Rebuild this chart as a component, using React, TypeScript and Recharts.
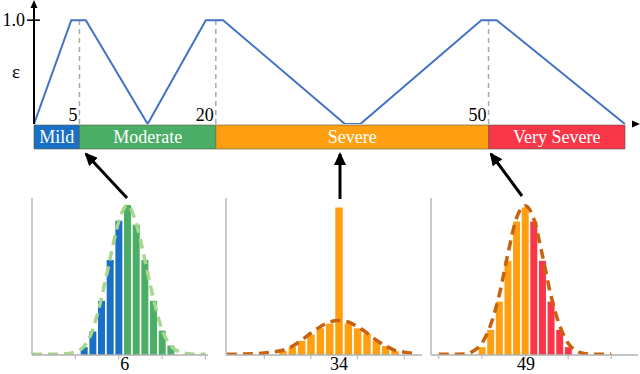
import React from 'react';
import {
  LineChart, Line, XAxis, YAxis, ReferenceLine, Label,
  BarChart, Bar, LabelList, ComposedChart, Cell,
} from 'recharts';

// top curve: epsilon vs severity score
const epsX = [0, 4.1, 5.7, 12.5, 18.9, 20.8, 34.2, 35.9, 49.2, 50.9, 65];
const epsY = [0.6, 1.0, 1.0, 0.6, 1.0, 1.0, 0.6, 0.6, 1.0, 1.0, 0.6];
const cutPoints = [5, 20, 50];

const severityNames = ['Mild', 'Moderate', 'Severe', 'Very Severe'];
const severityEdges = [0, 5, 20, 50, 65];
const severityColors = ['#1a70c6', '#4aae66', '#ffa012', '#f93647'];

// histogram 1 (score 6)
const h1Bins = [6, 7, 8, 9, 10, 11, 12, 13, 14, 15, 16];
const h1Freq = [0.05, 0.15, 0.345, 0.605, 0.855, 0.955, 0.83, 0.605, 0.345, 0.155, 0.06];
const h1FitX = [0, 1, 2, 3, 4, 5, 6, 7, 8, 9, 10, 11, 12, 13, 14, 15, 16, 17, 18, 19, 20];
const h1Fit = [0.004, 0.004, 0.004, 0.005, 0.008, 0.02, 0.055, 0.16, 0.36, 0.61, 0.85, 0.955, 0.84, 0.61, 0.36, 0.16, 0.06, 0.02, 0.008, 0.005, 0.004];

// histogram 2 (score 34)
const h2Bins = [7, 8, 9, 10, 11, 12, 13, 14, 15, 16, 17, 18, 19];
const h2Freq = [0.025, 0.05, 0.09, 0.13, 0.17, 0.2, 0.94, 0.2, 0.17, 0.135, 0.09, 0.057, 0.025];
const h2FitX = [1, 2, 3, 4, 5, 6, 7, 8, 9, 10, 11, 12, 13, 14, 15, 16, 17, 18, 19, 20, 21];
const h2Fit = [0.005, 0.005, 0.006, 0.008, 0.012, 0.02, 0.03, 0.055, 0.095, 0.14, 0.18, 0.21, 0.22, 0.21, 0.18, 0.14, 0.095, 0.058, 0.03, 0.018, 0.01];

// histogram 3 (score 49)
const h3Bins = [5, 6, 7, 8, 9, 10, 11, 12, 13, 14, 15];
const h3Freq = [0.05, 0.16, 0.34, 0.6, 0.85, 0.94, 0.85, 0.6, 0.34, 0.16, 0.05];
const h3FitX = [0, 1, 2, 3, 4, 5, 6, 7, 8, 9, 10, 11, 12, 13, 14, 15, 16, 17, 18, 19, 20];
const h3Fit = [0.005, 0.005, 0.005, 0.006, 0.025, 0.075, 0.19, 0.38, 0.64, 0.87, 0.95, 0.87, 0.64, 0.38, 0.19, 0.075, 0.025, 0.008, 0.005, 0.005, 0.005];

const FONT = "'Liberation Serif', 'DejaVu Serif', 'Times New Roman', serif";

const epsData = epsX.map((x, i) => ({ x, eps: epsY[i] }));
const bandRow: Record<string, any> = { name: 'band' };
severityNames.forEach((_, i) => { bandRow['b' + i] = severityEdges[i + 1] - severityEdges[i]; });

const txt = { fontFamily: FONT };

const EpsTick = ({ x, y, payload }: any) => (
  <g>
    {payload.value === 1 && <line x1={x + 1} x2={x + 14} y1={y} y2={y} stroke="#000" strokeWidth={1.5} />}
    <text x={x - 1} y={y} dy={6} textAnchor="end" fontSize={18} style={txt} fill="#000">{payload.value.toFixed(1)}</text>
  </g>
);

const CutLabel = ({ viewBox, text }: any) => (
  <text x={viewBox.x - 2} y={121} textAnchor="end" fontSize={18} style={txt} fill="#000">{text}</text>
);

function TopChart() {
  return (
    <LineChart width={640} height={126} data={epsData} margin={{ top: 2, right: 6, left: 0, bottom: 2 }}>
      <XAxis type="number" dataKey="x" domain={[0, 66]} allowDataOverflow height={0} tick={false} tickLine={false}
        axisLine={{ stroke: '#000', strokeWidth: 2 }} />
      <YAxis type="number" domain={[0.6, 1.07]} allowDataOverflow ticks={[0.6, 1.0]} width={34}
        tick={<EpsTick />} tickLine={false} axisLine={{ stroke: '#000', strokeWidth: 2 }}>
        <Label value="ε" position="insideLeft" offset={12} dy={8} fontSize={19} style={txt} fill="#000" />
      </YAxis>
      {cutPoints.map((c) => (
        <ReferenceLine key={c} segment={[{ x: c, y: 0.6 }, { x: c, y: 1.0 }]} stroke="#a8a8a8"
          strokeWidth={1.5} strokeDasharray="5 4" label={<CutLabel text={String(c)} />} />
      ))}
      <Line type="linear" dataKey="eps" stroke="#4472c4" strokeWidth={2} dot={false} isAnimationActive={false} />
    </LineChart>
  );
}

function BandChart() {
  return (
    <BarChart layout="vertical" width={640} height={26} data={[bandRow]} barCategoryGap={0}
      margin={{ top: 1, right: 15, left: 34, bottom: 1 }}>
      <XAxis type="number" domain={[0, 65]} hide />
      <YAxis type="category" dataKey="name" hide />
      {severityNames.map((n, i) => (
        <Bar key={n} dataKey={'b' + i} stackId="s" fill={severityColors[i]} stroke="#5c5c4c" strokeWidth={0.6}
          isAnimationActive={false}>
          <LabelList position="center" fill="#fff" fontSize={18} style={txt} formatter={() => n} />
        </Bar>
      ))}
    </BarChart>
  );
}

interface HistProps {
  left: number; width: number; domain: [number, number]; labelX: number; labelText: string;
  bins: number[]; freq: number[]; fitX: number[]; fit: number[];
  split: number; lowColor: string; highColor: string; curveColor: string; barSize: number;
}

function Hist(p: HistProps) {
  const data = p.fitX.map((x, i) => {
    const b = p.bins.indexOf(x);
    return { x, freq: b >= 0 ? p.freq[b] : null, fit: p.fit[i] };
  });
  const tickVals = [0, 5, 10, 15, 20].filter((t) => t > p.domain[0] + 0.5 && t <= p.domain[1]);
  const HistTick = ({ x, y, payload }: any) =>
    payload.value === p.labelX ? (
      <text x={x} y={y + 7} textAnchor="middle" fontSize={18} style={txt} fill="#000">{p.labelText}</text>
    ) : (
      <line x1={x} x2={x} y1={y - 8} y2={y - 4} stroke="#b0b0b0" strokeWidth={1} />
    );
  return (
    <div style={{ position: 'absolute', left: p.left, top: 198 }}>
      <ComposedChart width={p.width} height={176} data={data} margin={{ top: 0, right: 0, left: 0, bottom: 0 }}>
        <XAxis type="number" dataKey="x" domain={p.domain} allowDataOverflow ticks={[...tickVals, p.labelX]}
          interval={0} height={19} tick={<HistTick />} tickLine={false} axisLine={{ stroke: '#b0b0b0', strokeWidth: 1.5 }} />
        <YAxis type="number" domain={[0, 1]} allowDataOverflow width={1} tick={false} tickLine={false}
          axisLine={{ stroke: '#b8b8b8', strokeWidth: 1.5 }} />
        <Bar dataKey="freq" barSize={p.barSize} isAnimationActive={false}>
          {data.map((d) => (
            <Cell key={d.x} fill={d.x <= p.split ? p.lowColor : p.highColor} />
          ))}
        </Bar>
        <Line type="monotone" dataKey="fit" stroke={p.curveColor} strokeWidth={3.5} strokeDasharray="10 6"
          dot={false} isAnimationActive={false} />
      </ComposedChart>
    </div>
  );
}

export default function App() {
  return (
    <div style={{ position: 'absolute', left: 0, top: 0, width: 640, height: 374, background: '#fff', fontFamily: FONT, overflow: 'hidden' }}>
      <div style={{ position: 'absolute', left: 0, top: 124 }}><BandChart /></div>
      <div style={{ position: 'absolute', left: 0, top: 0 }}><TopChart /></div>
      <Hist left={31} width={177} domain={[0, 20.3]} labelX={10.7} labelText="6" bins={h1Bins} freq={h1Freq}
        fitX={h1FitX} fit={h1Fit} split={10} lowColor={severityColors[0]} highColor={severityColors[1]}
        curveColor="#a9d68f" barSize={7} />
      <Hist left={225} width={197} domain={[0.9, 21.9]} labelX={13} labelText="34" bins={h2Bins} freq={h2Freq}
        fitX={h2FitX} fit={h2Fit} split={99} lowColor={severityColors[2]} highColor={severityColors[2]}
        curveColor="#c9620f" barSize={7.5} />
      <Hist left={430} width={208} domain={[-0.9, 23.1]} labelX={10.1} labelText="49" bins={h3Bins} freq={h3Freq}
        fitX={h3FitX} fit={h3Fit} split={10} lowColor={severityColors[2]} highColor={severityColors[3]}
        curveColor="#c9620f" barSize={7} />
      <svg width={640} height={374} style={{ position: 'absolute', left: 0, top: 0, pointerEvents: 'none' }}>
        <defs>
          <marker id="ah" markerUnits="userSpaceOnUse" markerWidth={13} markerHeight={12} refX={11} refY={6} orient="auto">
            <path d="M0,0 L13,6 L0,12 z" fill="#000" />
          </marker>
        </defs>
        <path d="M34,0 L30.5,8 L37.5,8 z" fill="#000" />
        <path d="M640,124 L632,120.5 L632,127.5 z" fill="#000" />
        <line x1={127} y1={198} x2={86} y2={154} stroke="#000" strokeWidth={3} markerEnd="url(#ah)" />
        <line x1={340} y1={199} x2={340} y2={154} stroke="#000" strokeWidth={3} markerEnd="url(#ah)" />
        <line x1={522} y1={196} x2={491} y2={154} stroke="#000" strokeWidth={3} markerEnd="url(#ah)" />
      </svg>
    </div>
  );
}
